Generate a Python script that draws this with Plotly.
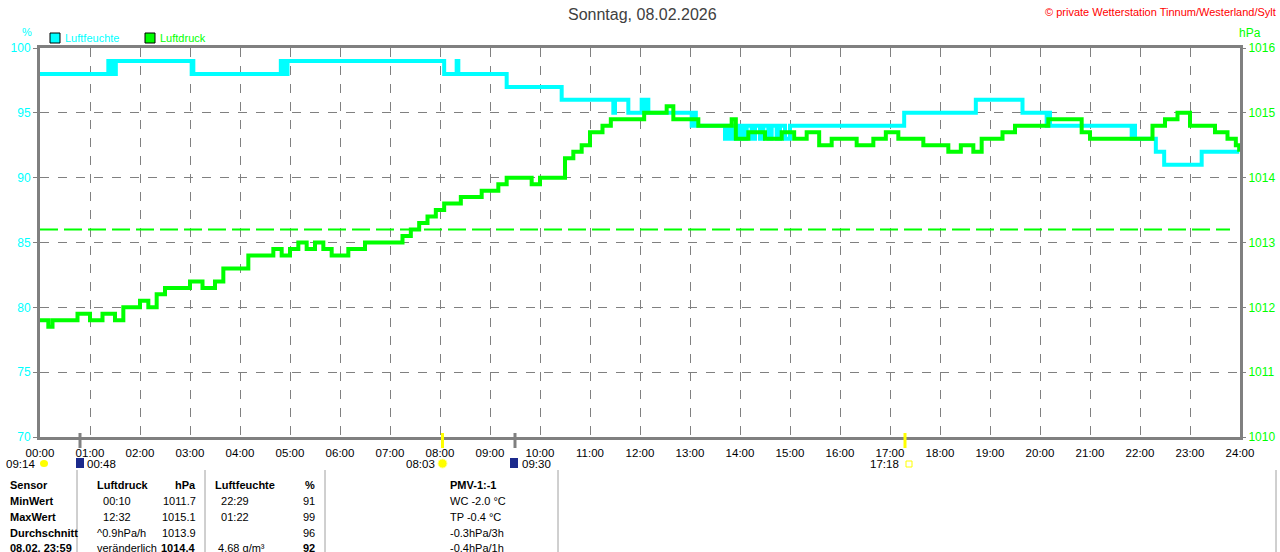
import plotly.graph_objects as go

# Luftfeuchte (%), Stufenwerte
hum_times = ["00:00", "01:22", "01:24", "01:26", "01:28", "01:31", "02:01", "03:02", "03:03",
             "03:04", "04:49", "04:51", "04:53", "04:55", "04:57", "04:59", "08:05", "08:20",
             "08:22", "09:20", "10:26", "11:28", "11:30", "11:46", "12:02", "12:04", "12:06",
             "12:10", "13:02", "13:04", "13:07", "13:42", "13:45", "13:48", "13:52", "13:56",
             "14:00", "14:04", "14:08", "14:14", "14:18", "14:24", "14:28", "14:34", "14:38",
             "14:44", "14:48", "14:54", "15:00", "17:17", "18:43", "19:39", "20:08", "20:10",
             "20:12", "21:50", "21:52", "21:54", "22:19", "22:29", "23:14", "23:59"]
hum_vals = [98, 99, 98, 99, 98, 99, 99, 98, 99,
            98, 99, 98, 99, 98, 99, 99, 98, 99,
            98, 97, 96, 95, 96, 95, 96, 95, 96,
            95, 94, 95, 94, 93, 94, 93, 94, 93,
            94, 93, 94, 93, 94, 93, 94, 93, 94,
            93, 94, 93, 94, 95, 96, 95, 94, 95,
            94, 93, 94, 93, 92, 91, 92, 92]

# Luftdruck (hPa)
prs_times = ["00:00", "00:10", "00:15", "00:30", "00:45", "01:00", "01:15", "01:30", "01:40",
             "01:50", "02:00", "02:10", "02:20", "02:30", "02:45", "03:00", "03:15", "03:30",
             "03:40", "03:50", "04:00", "04:10", "04:20", "04:30", "04:40", "04:50", "05:00",
             "05:10", "05:20", "05:30", "05:40", "05:50", "06:00", "06:10", "06:20", "06:30",
             "06:45", "07:00", "07:10", "07:15", "07:25", "07:35", "07:45", "07:55", "08:05",
             "08:15", "08:25", "08:40", "08:50", "09:00", "09:10", "09:20", "09:35", "09:50",
             "10:00", "10:15", "10:25", "10:30", "10:40", "10:50", "11:00", "11:15", "11:25",
             "11:40", "11:55", "12:05", "12:20", "12:32", "12:40", "12:50", "13:00", "13:10",
             "13:30", "13:50", "13:55", "14:10", "14:30", "14:50", "15:05", "15:20", "15:35",
             "15:50", "16:05", "16:20", "16:40", "16:55", "17:10", "17:25", "17:40", "17:55",
             "18:10", "18:25", "18:40", "18:50", "19:05", "19:15", "19:30", "19:45", "20:00",
             "20:10", "20:25", "20:40", "20:50", "21:00", "21:20", "21:40", "21:55", "22:10",
             "22:15", "22:30", "22:45", "23:00", "23:15", "23:30", "23:45", "23:55", "23:59"]
prs_vals = [1011.8, 1011.7, 1011.8, 1011.8, 1011.9, 1011.8, 1011.9, 1011.8, 1012.0,
            1012.0, 1012.1, 1012.0, 1012.2, 1012.3, 1012.3, 1012.4, 1012.3, 1012.4,
            1012.6, 1012.6, 1012.6, 1012.8, 1012.8, 1012.8, 1012.9, 1012.8, 1012.9,
            1013.0, 1012.9, 1013.0, 1012.9, 1012.8, 1012.8, 1012.9, 1012.9, 1013.0,
            1013.0, 1013.0, 1013.0, 1013.1, 1013.2, 1013.3, 1013.4, 1013.5, 1013.6,
            1013.6, 1013.7, 1013.7, 1013.8, 1013.8, 1013.9, 1014.0, 1014.0, 1013.9,
            1014.0, 1014.0, 1014.0, 1014.3, 1014.4, 1014.5, 1014.7, 1014.8, 1014.9,
            1014.9, 1014.9, 1015.0, 1015.0, 1015.1, 1014.9, 1014.9, 1014.9, 1014.8,
            1014.8, 1014.9, 1014.6, 1014.7, 1014.6, 1014.7, 1014.6, 1014.7, 1014.5,
            1014.6, 1014.6, 1014.5, 1014.6, 1014.7, 1014.6, 1014.6, 1014.5, 1014.5,
            1014.4, 1014.5, 1014.4, 1014.6, 1014.6, 1014.7, 1014.8, 1014.8, 1014.8,
            1014.9, 1014.9, 1014.9, 1014.7, 1014.6, 1014.6, 1014.6, 1014.6, 1014.6,
            1014.8, 1014.9, 1015.0, 1014.8, 1014.8, 1014.7, 1014.6, 1014.5, 1014.4]
prs_ref = 1013.2  # gestrichelte Linie

hour_labels = ["%02d:00" % h for h in range(25)]
hum_ticks = [70, 75, 80, 85, 90, 95, 100]
prs_ticks = [1010, 1011, 1012, 1013, 1014, 1015, 1016]

# Ereignisse unter der Zeitachse: Zeit, Farbe der Marke
events = [("00:48", "#808080"), ("08:03", "#ffff00"), ("09:30", "#808080"), ("17:18", "#ffff00")]

table_rows = [
    ["Sensor", "Luftdruck", "hPa", "Luftfeuchte", "%", "PMV-1:-1"],
    ["MinWert", "  00:10", "1011.7", "  22:29", "91", "WC -2.0 °C"],
    ["MaxWert", "  12:32", "1015.1", "  01:22", "99", "TP -0.4 °C"],
    ["Durchschnitt", "^0.9hPa/h", "1013.9", "", "96", "-0.3hPa/3h"],
    ["08.02. 23:59", "veränderlich", "1014.4", " 4.68 g/m³", "92", "-0.4hPa/1h"],
]


def to_h(t):
    hh, mm = t.split(":")
    return int(hh) + int(mm) / 60


# Pixel -> paper (Plotbereich 40..1240 / 48..437)
def px(x):
    return (x - 40) / 1200


def py(y):
    return (437 - y) / 389


FONT = "Liberation Sans, Arial, sans-serif"
CYAN = "#00ffff"
GREEN = "#00ff00"

fig = go.Figure()
fig.add_trace(go.Scatter(x=[to_h(t) for t in prs_times], y=prs_vals, yaxis="y2",
                         mode="lines", line=dict(color=GREEN, width=4, shape="hv"),
                         name="Luftdruck", hoverinfo="x+y"))
fig.add_trace(go.Scatter(x=[to_h(t) for t in hum_times], y=hum_vals,
                         mode="lines", line=dict(color=CYAN, width=4, shape="hv"),
                         name="Luftfeuchte", hoverinfo="x+y"))

shapes = []
# gestrichelte Referenzlinie
shapes.append(dict(type="line", xref="x", yref="y2", x0=0, x1=23.8, y0=prs_ref, y1=prs_ref,
                   line=dict(color=GREEN, width=2, dash="18px,6px")))
# Ereignismarken auf der Achse
for t, c in events:
    shapes.append(dict(type="line", xref="x", yref="paper", x0=to_h(t), x1=to_h(t),
                       y0=py(448), y1=py(433), line=dict(color=c, width=3)))
# Legende
shapes.append(dict(type="rect", xref="paper", yref="paper", x0=px(50), x1=px(60),
                   y0=py(43), y1=py(33), fillcolor=CYAN, line=dict(color="black", width=1)))
shapes.append(dict(type="rect", xref="paper", yref="paper", x0=px(145), x1=px(155),
                   y0=py(43), y1=py(33), fillcolor=GREEN, line=dict(color="black", width=1)))
# Tabellentrenner
for x in [77, 205, 325, 558, 1276]:
    shapes.append(dict(type="line", xref="paper", yref="paper", x0=px(x), x1=px(x),
                       y0=py(552), y1=py(470), line=dict(color="#a0a0a0", width=1)))
# kleine Symbole unter der Achse
shapes.append(dict(type="circle", xref="paper", yref="paper", x0=px(40), x1=px(48),
                   y0=py(467), y1=py(460), fillcolor="#ffff00", line=dict(width=0)))
shapes.append(dict(type="rect", xref="paper", yref="paper", x0=px(76), x1=px(84),
                   y0=py(468), y1=py(458), fillcolor="#1c2a8c", line=dict(width=0)))
shapes.append(dict(type="circle", xref="paper", yref="paper", x0=px(438), x1=px(447),
                   y0=py(468), y1=py(459), fillcolor="#ffff00", line=dict(color="#ffff99", width=1)))
shapes.append(dict(type="rect", xref="paper", yref="paper", x0=px(510), x1=px(518),
                   y0=py(468), y1=py(458), fillcolor="#1c2a8c", line=dict(width=0)))
shapes.append(dict(type="rect", xref="paper", yref="paper", x0=px(906), x1=px(912),
                   y0=py(467), y1=py(461), fillcolor="white", line=dict(color="#ffff00", width=1)))

ann = []


def text(x, y, s, color="black", size=11, anchor="left", bold=False):
    ann.append(dict(xref="paper", yref="paper", x=px(x), y=py(y), text="<b>%s</b>" % s if bold else s,
                    showarrow=False, xanchor=anchor, yanchor="middle",
                    font=dict(family=FONT, size=size, color=color)))


text(642, 15, "Sonntag, 08.02.2026", color="#404040", size=16, anchor="center")
text(1278, 12, "© private Wetterstation Tinnum/Westerland/Sylt", color="#ff0000", size=11, anchor="right")
text(27, 32, "%", color=CYAN, size=11, anchor="center")
text(1250, 33, "hPa", color=GREEN, size=12, anchor="center")
text(63, 38, "Luftfeuchte", color=CYAN, size=11)
text(158, 38, "Luftdruck", color=GREEN, size=11)

# Zeilen unter der Achse
text(37, 464, "09:14", size=11.5, anchor="right")
text(85, 464, "00:48", size=11.5)
text(437, 464, "08:03", size=11.5, anchor="right")
text(520, 464, "09:30", size=11.5)
text(901, 464, "17:18", size=11.5, anchor="right")

# Tabelle
row_y = [485, 501, 517, 533, 548]
for i, r in enumerate(table_rows):
    head = i == 0
    text(8, row_y[i], r[0], bold=True)
    text(95, row_y[i], r[1], bold=head)
    text(198, row_y[i], r[2], anchor="right", bold=head or i == 4)
    text(213, row_y[i], r[3], bold=head)
    text(317, row_y[i], r[4], anchor="right", bold=head or i == 4)
    text(448, row_y[i], r[5], bold=head)

fig.update_layout(
    width=1280, height=552,
    margin=dict(l=40, r=40, t=48, b=115, autoexpand=False),
    paper_bgcolor="white", plot_bgcolor="white",
    showlegend=False,
    shapes=shapes, annotations=ann,
    xaxis=dict(range=[0, 24], tickvals=list(range(25)), ticktext=hour_labels,
               showgrid=True, gridcolor="#808080", griddash="dash", gridwidth=1,
               showline=True, linecolor="#808080", linewidth=3, mirror=True,
               ticks="", zeroline=False, ticklabelstandoff=3, automargin=False,
               tickfont=dict(family=FONT, size=11.5, color="black")),
    yaxis=dict(range=[70, 100], tickvals=hum_ticks,
               showgrid=True, gridcolor="#808080", griddash="dash", gridwidth=1,
               showline=True, linecolor="#808080", linewidth=3, mirror=True,
               ticks="outside", ticklen=4, tickcolor="#808080", zeroline=False, automargin=False,
               tickfont=dict(family=FONT, size=12, color=CYAN)),
    yaxis2=dict(range=[1010, 1016], tickvals=prs_ticks, overlaying="y", side="right",
                showgrid=False, zeroline=False, showline=False, automargin=False,
                ticks="outside", ticklen=5, tickcolor="#808080",
                tickfont=dict(family=FONT, size=12, color=GREEN)),
)

# Seitenrand und Scrollbalken des Browsers weg, damit die Grafik bei 0,0 beginnt
fig.write_html("out.html", config={"displayModeBar": False},
               post_script="document.body.style.margin='0';document.body.style.overflow='hidden';")
